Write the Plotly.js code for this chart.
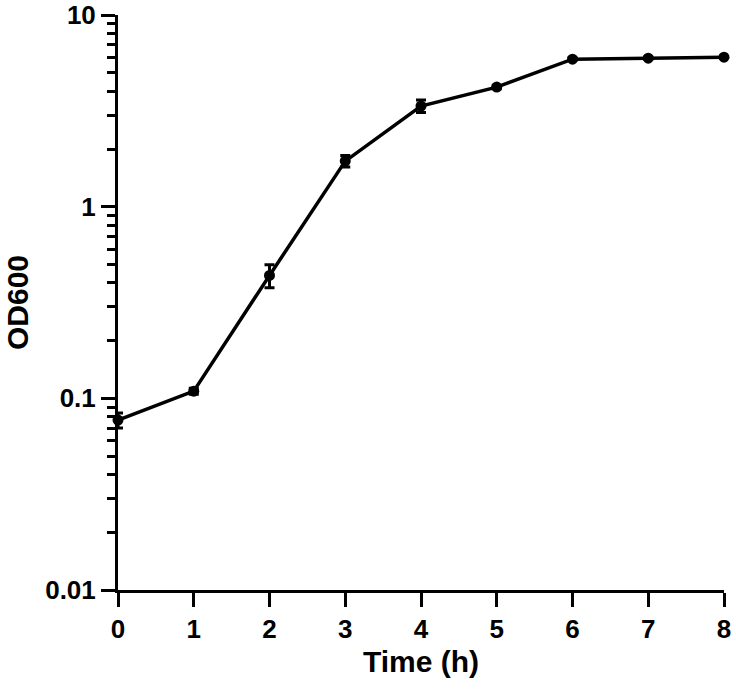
<!DOCTYPE html>
<html>
<head>
<meta charset="utf-8">
<script src="https://cdn.plot.ly/plotly-3.0.1.min.js"></script>
<style>
  html, body { margin: 0; padding: 0; background: #fff; }
  #chart { width: 736px; height: 692px; }
</style>
</head>
<body>
<div id="chart"></div>
<script>
// growth curve
const timeHours = [0, 1, 2, 3, 4, 5, 6, 7, 8];
const od600 = [0.077, 0.109, 0.438, 1.73, 3.35, 4.21, 5.89, 5.96, 6.03];
const od600Err = [0.007, 0.004, 0.06, 0.12, 0.25, 0.08, 0.08, 0.08, 0.08];

const yTickVals = [0.01, 0.1, 1, 10];
const yTickText = ['0.01', '0.1', '1', '10'];

const font = 'Liberation Sans, Arial, sans-serif';

let trace = {
    x: timeHours,
    y: od600,
    mode: 'lines+markers',
    type: 'scatter',
    line: { color: '#000', width: 3.5 },
    marker: { color: '#000', size: 11 },
    error_y: { type: 'data', array: od600Err, visible: true, color: '#000', thickness: 3, width: 5 },
    cliponaxis: false,
    showlegend: false
};

let layout = {
    width: 736,
    height: 692,
    margin: { l: 118, r: 12, t: 15, b: 102 },
    paper_bgcolor: '#fff',
    plot_bgcolor: '#fff',
    font: { family: font, color: '#000', size: 26 },
    xaxis: {
        range: [0, 8],
        tickvals: timeHours,
        ticks: 'outside', ticklen: 14, tickwidth: 3, tickcolor: '#000',
        showline: true, linewidth: 3, linecolor: '#000',
        showgrid: false, zeroline: false,
        ticklabeloverflow: 'allow',
        tickfont: { family: font, size: 26, weight: 'bold' },
        title: { text: '<b>Time (h)</b>', font: { family: font, size: 30 }, standoff: 8 }
    },
    yaxis: {
        type: 'log',
        range: [-2, 1.0005],
        tickvals: yTickVals,
        ticktext: yTickText,
        ticks: 'outside', ticklen: 14, tickwidth: 3, tickcolor: '#000',
        minor: { ticks: 'outside', ticklen: 8, tickwidth: 3, tickcolor: '#000', dtick: 'D1', showgrid: false },
        showline: true, linewidth: 3, linecolor: '#000',
        showgrid: false, zeroline: false,
        ticklabeloverflow: 'allow',
        tickfont: { family: font, size: 26, weight: 'bold' },
        title: { text: '<b>OD600</b>', font: { family: font, size: 30 }, standoff: 8 }
    }
};

Plotly.newPlot('chart', [trace], layout, { displayModeBar: false, staticPlot: true });
</script>
</body>
</html>
